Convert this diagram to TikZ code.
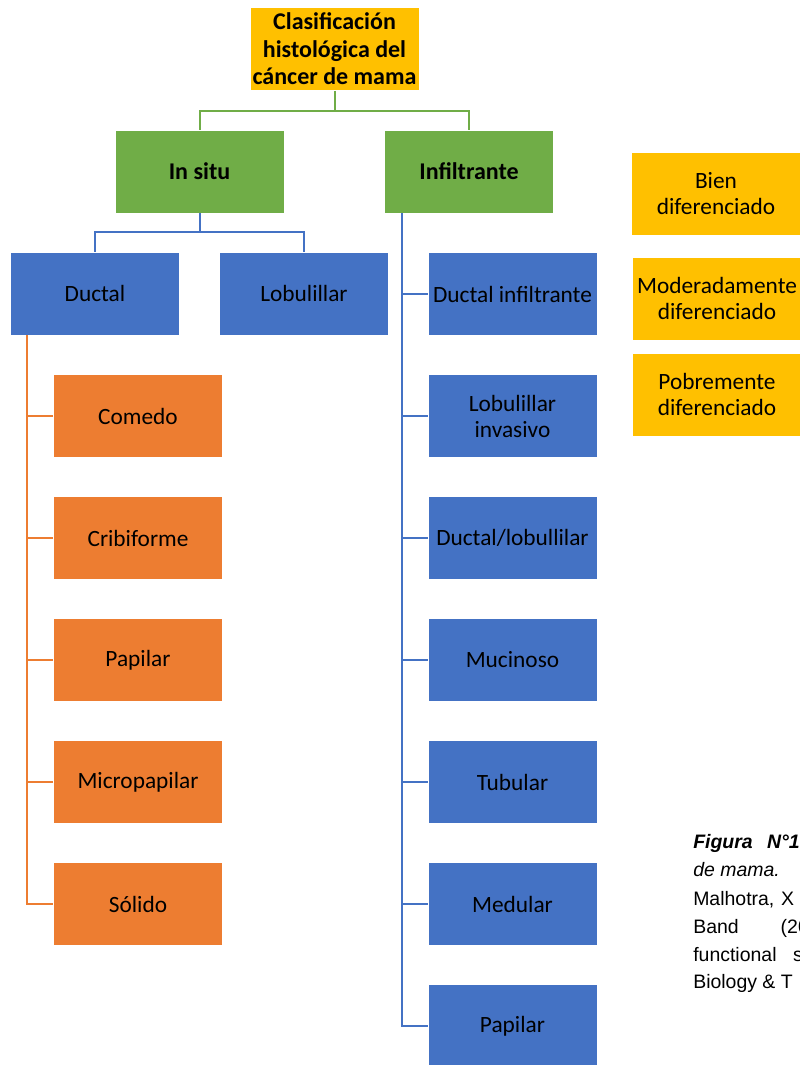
\documentclass[tikz,border=0pt]{standalone}
\usepackage{fontspec}
\setmainfont{Carlito}
\newfontfamily\capfont{Liberation Sans}
\usepackage{tikz}
\usetikzlibrary{positioning}
\definecolor{TitleGold}{RGB}{255,192,0}
\definecolor{LeafGreen}{RGB}{112,173,71}
\definecolor{OfficeBlue}{RGB}{68,114,196}
\definecolor{OfficeOrange}{RGB}{237,125,49}

\begin{document}
\begin{tikzpicture}[x=0.75pt,y=-0.75pt,
  box/.style={draw=white,line width=0.4pt,minimum width=127pt,minimum height=62.25pt,
              inner sep=1pt,align=center,font=\fontsize{17.5}{19.5}\selectfont},
  goldblk/.style={box,fill=TitleGold},
  headblk/.style={box,fill=TitleGold,font=\fontsize{18}{20.6}\selectfont\bfseries},
  greenblk/.style={box,fill=LeafGreen,font=\fontsize{18}{20.6}\selectfont\bfseries},
  blueblk/.style={box,fill=OfficeBlue},
  orangeblk/.style={box,fill=OfficeOrange},
  gline/.style={draw=LeafGreen,line width=1.5pt},
  bline/.style={draw=OfficeBlue,line width=1.5pt},
  oline/.style={draw=OfficeOrange,line width=1.5pt},
  capline/.style={anchor=base west,inner sep=0pt,font=\capfont\fontsize{14.6}{20.5}\selectfont},
]
\useasboundingbox (0,0) rectangle (800,1065);
\clip (0,0) rectangle (800,1065);

\node[headblk] (title) at (334.5,49) {Clasificación\\histológica del\\cáncer de mama};
\node[greenblk] (insitu) at (199.5,171.5) {In situ};
\node[greenblk] (infil) at (469,171.5) {Infiltrante};
\node[blueblk] (ductal) at (95,293.5) {Ductal};
\node[blueblk] (lobul) at (304,293.5) {Lobulillar};

\foreach \y/\op [count=\i] in {294/{Ductal infiltrante}, 416/{Lobulillar\\invasivo}, 538/{Ductal/lobullilar},
                     660/Mucinoso, 782/Tubular, 904/Medular, 1026/Papilar}
  \node[blueblk] (inf\i) at (512.5,\y) {\op};
\foreach \y/\op [count=\i] in {416/Comedo, 538/Cribiforme, 660/Papilar, 782/Micropapilar, 904/Sólido}
  \node[orangeblk] (orn\i) at (138,\y) {\op};
\foreach \x/\y/\op [count=\i] in {716/193.5/{Bien\\diferenciado}, 717/298.5/{Moderadamente\\diferenciado},
                     717/394.5/{Pobremente\\diferenciado}}
  \node[goldblk] (grade\i) at (\x,\y) {\op};

\coordinate (gbar) at (0,111);
\coordinate (bbar) at (0,232);
\coordinate (ostem) at (27,0);
\coordinate (bstem) at (402,0);
\draw[gline] (title.south) -- (title.south |- gbar);
\draw[gline] (insitu.north) -- (insitu.north |- gbar) -- (infil.north |- gbar) -- (infil.north);
\draw[bline] (insitu.south) -- (insitu.south |- bbar);
\draw[bline] (ductal.north) -- (ductal.north |- bbar) -- (lobul.north |- bbar) -- (lobul.north);
\draw[oline] (ductal.south -| ostem) |- (orn5.west);
\foreach \i in {1,...,4}
  \draw[oline] (orn\i.west) -- (orn\i.west -| ostem);
\draw[bline] (infil.south -| bstem) |- (inf7.west);
\foreach \i in {1,...,6}
  \draw[bline] (inf\i.west) -- (inf\i.west -| bstem);

\node[capline] (cap1) at (693,848) {\bfseries\itshape Figura\hspace{10.8pt}N°1};
\node[capline] (cap2) at (693,876) {\itshape de mama.};
\node[capline] (cap3) at (693,905) {Malhotra,\hspace{5pt}X};
\node[capline] (cap4) at (693,933) {Band\hspace{31.5pt}(20};
\node[capline] (cap5) at (693,961) {functional\hspace{12.4pt}s};
\node[capline] (cap6) at (693,988) {Biology \& T};
\end{tikzpicture}
\end{document}
